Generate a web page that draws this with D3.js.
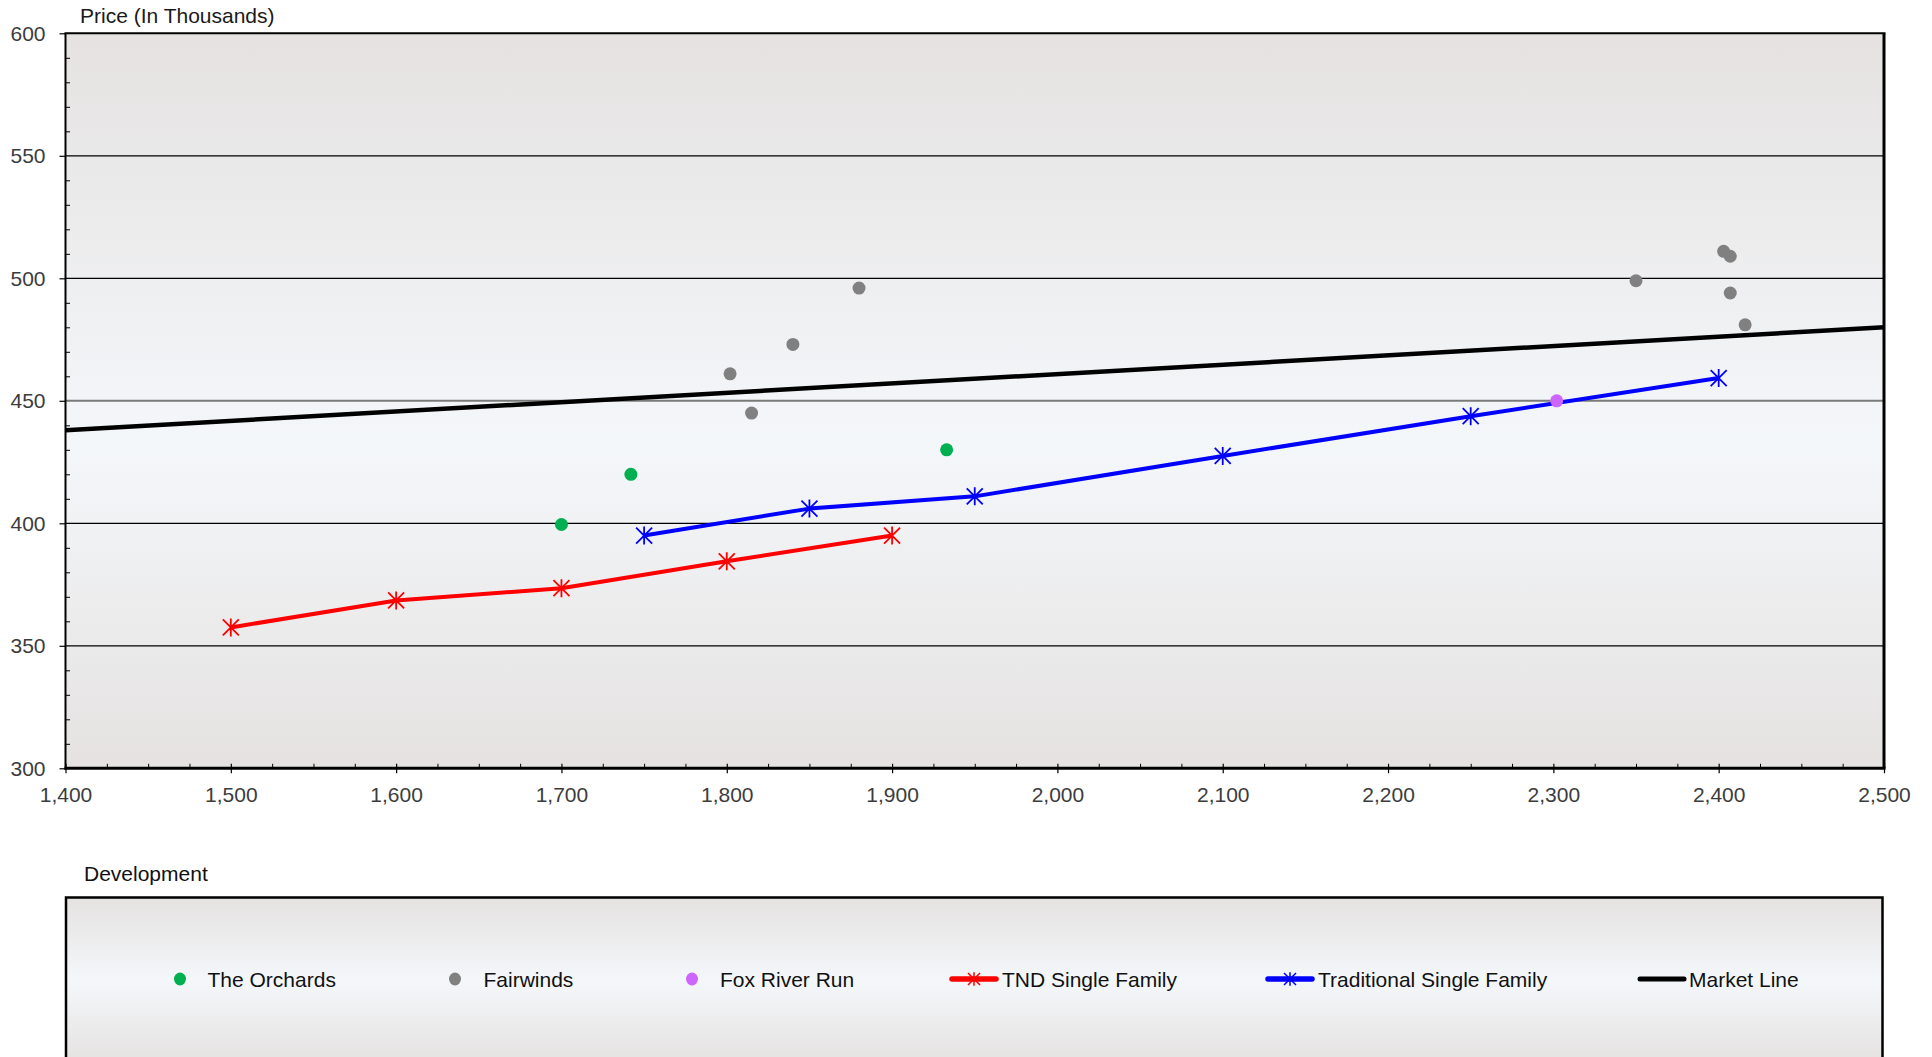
<!DOCTYPE html>
<html>
<head>
<meta charset="utf-8">
<script src="https://cdn.jsdelivr.net/npm/d3@7"></script>
<style>
  html, body { margin: 0; padding: 0; background: #ffffff; }
  svg { display: block; font-family: "Liberation Sans", Arial, sans-serif; }
</style>
</head>
<body>
<svg id="chart" width="1932" height="1057"></svg>
<script>
// Square footage (x) vs. price in thousands (y) for each development
const orchards = [[1700, 399.5], [1742, 420], [1933, 430]];
const fairwinds = [[1802, 461], [1815, 445], [1840, 473], [1880, 496], [2350, 499],
                   [2403, 511], [2407, 509], [2407, 494], [2416, 481]];
const foxRiverRun = [[2302, 450]];
const tndSingleFamily = [[1500, 357.5], [1600, 368.5], [1700, 373.5], [1800, 384.5], [1900, 395]];
const traditionalSingleFamily = [[1750, 395], [1850, 406], [1950, 411], [2100, 427.5], [2250, 443.7], [2400, 459.3]];
const marketLine = [[1400, 438], [2500, 480]];

const xTicks = [1400, 1500, 1600, 1700, 1800, 1900, 2000, 2100, 2200, 2300, 2400, 2500];
const yTicks = [300, 350, 400, 450, 500, 550, 600];

const seriesNames = ["The Orchards", "Fairwinds", "Fox River Run", "TND Single Family", "Traditional Single Family", "Market Line"];
const seriesColors = ["#00b050", "#808080", "#cc66ff", "#ff0000", "#0000ff", "#000000"];
const seriesKinds = ["dot", "dot", "dot", "star", "star", "line"];

const yTitle = "Price (In Thousands)";
const legendTitle = "Development";

// ---- layout ----
const P = { left: 65.5, right: 1884, top: 33.3, bottom: 768.3 };
const FONT = 21;

const svg = d3.select("#chart");
const defs = svg.append("defs");

function bgGradient(id, mid) {
  const g = defs.append("linearGradient").attr("id", id)
    .attr("x1", 0).attr("y1", 0).attr("x2", 0).attr("y2", 1);
  g.append("stop").attr("offset", 0).attr("stop-color", "#e5e2e1");
  g.append("stop").attr("offset", mid).attr("stop-color", "#f4f7fa");
  g.append("stop").attr("offset", 1).attr("stop-color", "#e5e2e1");
}
bgGradient("plotBg", 0.56);
bgGradient("legendBg", 0.5);

const x = d3.scaleLinear().domain([1400, 2500]).range([P.left, P.right]);
const y = d3.scaleLinear().domain([300, 600]).range([P.bottom, P.top]);

// plot background
svg.append("rect")
  .attr("x", P.left).attr("y", P.top)
  .attr("width", P.right - P.left).attr("height", P.bottom - P.top)
  .attr("fill", "url(#plotBg)");

// horizontal gridlines
svg.append("g").selectAll("line")
  .data(yTicks.filter(v => v > 300 && v < 600))
  .join("line")
  .attr("x1", P.left).attr("x2", P.right)
  .attr("y1", d => y(d)).attr("y2", d => y(d))
  .attr("stroke", d => d === 450 ? "#7a7a7a" : "#000000")
  .attr("stroke-width", d => d === 450 ? 2 : 1.2);

// y axis: major ticks outward with labels, minor ticks inward
const yAxis = svg.append("g").attr("transform", `translate(${P.left},0)`)
  .call(d3.axisLeft(y).tickValues(yTicks).tickSize(6).tickPadding(14).tickFormat(d3.format("d")));
yAxis.select(".domain").remove();
yAxis.selectAll(".tick line").attr("stroke", "#000").attr("stroke-width", 1.2);
yAxis.selectAll(".tick text").attr("font-size", FONT).attr("fill", "#3c3c3c")
  .attr("font-family", "'Liberation Sans', Arial, sans-serif");

const yMinor = d3.range(310, 600, 10).filter(v => v % 50 !== 0);
const yMinorAxis = svg.append("g").attr("transform", `translate(${P.left},0)`)
  .call(d3.axisRight(y).tickValues(yMinor).tickSize(4.5).tickFormat(""));
yMinorAxis.select(".domain").remove();
yMinorAxis.selectAll(".tick line").attr("stroke", "#000").attr("stroke-width", 1);

// x axis: major ticks cross the axis line, minor ticks inward
const xAxis = svg.append("g").attr("transform", `translate(0,${P.bottom})`)
  .call(d3.axisBottom(x).tickValues(xTicks).tickSize(5).tickPadding(14).tickFormat(d3.format(",")));
xAxis.select(".domain").remove();
xAxis.selectAll(".tick line").attr("y1", -4.5).attr("y2", 5).attr("stroke", "#000").attr("stroke-width", 1.2);
xAxis.selectAll(".tick text").attr("font-size", FONT).attr("fill", "#3c3c3c")
  .attr("font-family", "'Liberation Sans', Arial, sans-serif");

const xMinor = d3.range(1425, 2500, 25).filter(v => v % 100 !== 0);
const xMinorAxis = svg.append("g").attr("transform", `translate(0,${P.bottom})`)
  .call(d3.axisTop(x).tickValues(xMinor).tickSize(4.5).tickFormat(""));
xMinorAxis.select(".domain").remove();
xMinorAxis.selectAll(".tick line").attr("stroke", "#000").attr("stroke-width", 1);

// plot frame
const frame = svg.append("g").attr("stroke", "#000").attr("fill", "none");
frame.append("line").attr("x1", P.left - 1).attr("x2", P.right + 1.5).attr("y1", P.top).attr("y2", P.top).attr("stroke-width", 2);
frame.append("line").attr("x1", P.right).attr("x2", P.right).attr("y1", P.top).attr("y2", P.bottom).attr("stroke-width", 3);
frame.append("line").attr("x1", P.left).attr("x2", P.left).attr("y1", P.top).attr("y2", P.bottom + 1.5).attr("stroke-width", 2);
frame.append("line").attr("x1", P.left - 1).attr("x2", P.right + 1.5).attr("y1", P.bottom).attr("y2", P.bottom).attr("stroke-width", 3);

// y axis title
svg.append("text").attr("x", 80).attr("y", 23)
  .attr("font-size", FONT).attr("fill", "#1a1a1a").text(yTitle);

// ---- series ----
const line = d3.line().x(d => x(d[0])).y(d => y(d[1]));
const starPath = "M0,-9V9M-8,-8L8,8M-8,8L8,-8";

const plot = svg.append("g");

plot.append("path").datum(marketLine).attr("d", line)
  .attr("fill", "none").attr("stroke", seriesColors[5]).attr("stroke-width", 4.5);

[[tndSingleFamily, seriesColors[3]], [traditionalSingleFamily, seriesColors[4]]].forEach(([data, color]) => {
  plot.append("path").datum(data).attr("d", line)
    .attr("fill", "none").attr("stroke", color).attr("stroke-width", 4).attr("stroke-linejoin", "round");
  plot.append("g").selectAll("path").data(data).join("path")
    .attr("transform", d => `translate(${x(d[0])},${y(d[1])})`)
    .attr("d", starPath).attr("fill", "none").attr("stroke", color).attr("stroke-width", 1.8);
});

[[orchards, seriesColors[0]], [fairwinds, seriesColors[1]], [foxRiverRun, seriesColors[2]]].forEach(([data, color]) => {
  plot.append("g").selectAll("circle").data(data).join("circle")
    .attr("cx", d => x(d[0])).attr("cy", d => y(d[1])).attr("r", 6.5)
    .attr("fill", color);
});

// ---- legend ----
svg.append("text").attr("x", 84).attr("y", 881)
  .attr("font-size", FONT).attr("fill", "#111").text(legendTitle);

svg.append("rect").attr("x", 66).attr("y", 897.5)
  .attr("width", 1816.5).attr("height", 166)
  .attr("fill", "url(#legendBg)").attr("stroke", "#000").attr("stroke-width", 2.5);

const legendY = 979;
const legendSymbolX = [180, 455, 692, 974, 1290, 1662];
const legendTextX = [207.5, 483.5, 720, 1002, 1318, 1689];

const legend = svg.append("g");
seriesNames.forEach((name, i) => {
  const cx = legendSymbolX[i];
  const color = seriesColors[i];
  if (seriesKinds[i] === "dot") {
    legend.append("ellipse").attr("cx", cx).attr("cy", legendY).attr("rx", 6).attr("ry", 6.5).attr("fill", color);
  } else {
    legend.append("line").attr("x1", cx - 22).attr("x2", cx + 22).attr("y1", legendY).attr("y2", legendY)
      .attr("stroke", color).attr("stroke-width", seriesKinds[i] === "line" ? 5 : 5.5).attr("stroke-linecap", "round");
    if (seriesKinds[i] === "star") {
      legend.append("path").attr("transform", `translate(${cx},${legendY}) scale(0.75)`)
        .attr("d", starPath).attr("fill", "none").attr("stroke", color).attr("stroke-width", 2);
    }
  }
  legend.append("text").attr("x", legendTextX[i]).attr("y", legendY + 7.5)
    .attr("font-size", FONT).attr("fill", "#111").text(name);
});
</script>
</body>
</html>
